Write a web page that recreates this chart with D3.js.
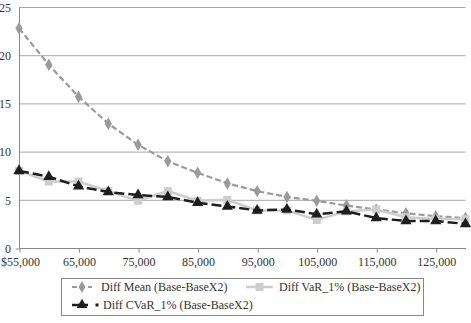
<!DOCTYPE html>
<html>
<head>
<meta charset="utf-8">
<script src="https://cdn.jsdelivr.net/npm/d3@7"></script>
<style>
body { margin: 0; background: #fff; }
</style>
</head>
<body>
<div id="chart"></div>
<script>

// wealth levels on the x axis
var wealth = [55000, 60000, 65000, 70000, 75000, 80000, 85000, 90000,
              95000, 100000, 105000, 110000, 115000, 120000, 125000, 130000];
var xTicks = [55000, 65000, 75000, 85000, 95000, 105000, 115000, 125000];
var yTicks = [0, 5, 10, 15, 20, 25];

var diffMean = [22.8, 19.0, 15.7, 12.9, 10.7, 9.0, 7.8, 6.7, 5.9, 5.3, 4.9, 4.4, 4.0, 3.6, 3.3, 3.1];
var diffVaR  = [8.0, 6.9, 6.9, 5.9, 4.9, 5.9, 4.9, 5.0, 3.9, 3.9, 2.9, 3.8, 4.0, 3.2, 3.0, 3.0];
var diffCVaR = [8.0, 7.4, 6.4, 5.8, 5.5, 5.3, 4.7, 4.3, 3.9, 4.0, 3.5, 3.8, 3.1, 2.8, 2.8, 2.5];

var seriesNames = ["Diff Mean (Base-BaseX2)", "Diff VaR_1% (Base-BaseX2)", "Diff CVaR_1% (Base-BaseX2)"];

var width = 471,
    height = 323;
var font = "'Liberation Serif', serif";

var svg = d3.select("#chart").append("svg")
  .attr("width", width)
  .attr("height", height);

var x = d3.scaleLinear().domain([55000, 130000]).range([19, 465.5]);
var y = d3.scaleLinear().domain([0, 25]).range([248, 7]);

// gridlines
svg.selectAll(".grid")
  .data(yTicks.slice(1))
  .enter()
  .append("line")
  .attr("x1", x(55000))
  .attr("x2", x(130000))
  .attr("y1", function(d) { return y(d) + 0.5; })
  .attr("y2", function(d) { return y(d) + 0.5; })
  .style("stroke", "#a6a6a6")
  .style("stroke-width", 1);

// y axis
var yAxis = svg.append("g")
  .attr("transform", "translate(" + (x(55000) + 0.5) + ",0.5)")
  .call(d3.axisLeft(y).tickValues(yTicks).tickSize(4).tickFormat(d3.format("d")));
yAxis.select(".domain").style("stroke", "#888").attr("d", "M0," + y(25) + "V" + y(0));
yAxis.selectAll(".tick line").style("stroke", "#888");
yAxis.selectAll(".tick").filter(function(d) { return d > 0; }).select("line").remove();
yAxis.selectAll("text")
  .attr("x", -8.5)
  .style("font-size", "12px")
  .style("font-family", font)
  .style("fill", "#333");

// x axis
var fmt = d3.format(",");
var xAxis = svg.append("g")
  .attr("transform", "translate(0.5," + (y(0) + 0.5) + ")")
  .call(d3.axisBottom(x).tickValues(xTicks).tickSize(4)
    .tickFormat(function(d) { return d == 55000 ? "$" + fmt(d) : fmt(d); }));
xAxis.select(".domain").style("stroke", "#888").attr("d", "M" + x(55000) + ",0H" + x(130000));
xAxis.selectAll(".tick line").style("stroke", "#888");
xAxis.selectAll("text")
  .attr("y", 9)
  .style("font-size", "12px")
  .style("font-family", font)
  .style("fill", "#333");
xAxis.selectAll(".tick").filter(function(d) { return d == 55000; }).select("text")
  .attr("text-anchor", "start").attr("x", -19);

var line = d3.line()
  .x(function(d, i) { return x(wealth[i]); })
  .y(function(d) { return y(d); });

// Mean series: gray dashed with diamonds
svg.append("path")
  .datum(diffMean)
  .attr("d", line)
  .style("fill", "none")
  .style("stroke", "#9a9a9a")
  .style("stroke-width", 2.2)
  .style("stroke-dasharray", "6,3");
svg.selectAll(".mean")
  .data(diffMean)
  .enter()
  .append("path")
  .attr("transform", function(d, i) { return "translate(" + x(wealth[i]) + "," + y(d) + ")"; })
  .attr("d", d3.symbol().type(d3.symbolDiamond).size(45))
  .style("fill", "#9a9a9a");

// VaR series: light gray solid with squares
svg.append("path")
  .datum(diffVaR)
  .attr("d", line)
  .style("fill", "none")
  .style("stroke", "#cdcdcd")
  .style("stroke-width", 2.5);
svg.selectAll(".var")
  .data(diffVaR)
  .enter()
  .append("rect")
  .attr("x", function(d, i) { return x(wealth[i]) - 4; })
  .attr("y", function(d) { return y(d) - 4; })
  .attr("width", 8)
  .attr("height", 8)
  .style("fill", "#cdcdcd");

// CVaR series: black long dashes with triangles
svg.append("path")
  .datum(diffCVaR)
  .attr("d", line)
  .style("fill", "none")
  .style("stroke", "#1e1e1e")
  .style("stroke-width", 2.5)
  .style("stroke-dasharray", "10,4");
svg.selectAll(".cvar")
  .data(diffCVaR)
  .enter()
  .append("path")
  .attr("transform", function(d, i) { return "translate(" + x(wealth[i]) + "," + y(d) + ")"; })
  .attr("d", d3.symbol().type(d3.symbolTriangle).size(55))
  .style("fill", "#1e1e1e");

// legend
var legend = svg.append("g");
legend.append("rect")
  .attr("x", 61.5).attr("y", 278.5)
  .attr("width", 362).attr("height", 37)
  .style("fill", "#fff")
  .style("stroke", "#888");

var leg = [
  {lx: 72, len: 20, ly: 287, tx: 101, color: "#9a9a9a", dash: "5,3", w: 2.2, sym: "diamond"},
  {lx: 246, len: 27, ly: 287, tx: 279, color: "#cdcdcd", dash: null, w: 2.5, sym: "square"},
  {lx: 72, len: 16, ly: 305, tx: 103, color: "#1e1e1e", dash: null, w: 2.5, sym: "triangle"}
];
leg.forEach(function(d, i) {
  var cx = d.sym == "triangle" ? d.lx + 10 : d.lx + d.len / 2;
  legend.append("line")
    .attr("x1", d.lx).attr("x2", d.lx + d.len)
    .attr("y1", d.ly).attr("y2", d.ly)
    .style("stroke", d.color)
    .style("stroke-width", d.w)
    .style("stroke-dasharray", d.dash);
  if (d.sym == "square") {
    legend.append("rect")
      .attr("x", cx - 4).attr("y", d.ly - 4)
      .attr("width", 8).attr("height", 8)
      .style("fill", d.color);
  } else {
    legend.append("path")
      .attr("transform", "translate(" + cx + "," + d.ly + ")")
      .attr("d", d3.symbol().type(d.sym == "diamond" ? d3.symbolDiamond : d3.symbolTriangle).size(d.sym == "diamond" ? 40 : 50))
      .style("fill", d.color);
  }
  if (i == 2) {
    // trailing short dash of the CVaR line
    legend.append("rect")
      .attr("x", 95.5).attr("y", d.ly - 1.5)
      .attr("width", 3).attr("height", 3)
      .style("fill", d.color);
  }
  legend.append("text")
    .attr("x", d.tx)
    .attr("y", d.ly + 4)
    .style("font-size", "12px")
    .style("font-family", font)
    .style("fill", "#333")
    .text(seriesNames[i]);
});

</script>
</body>
</html>
